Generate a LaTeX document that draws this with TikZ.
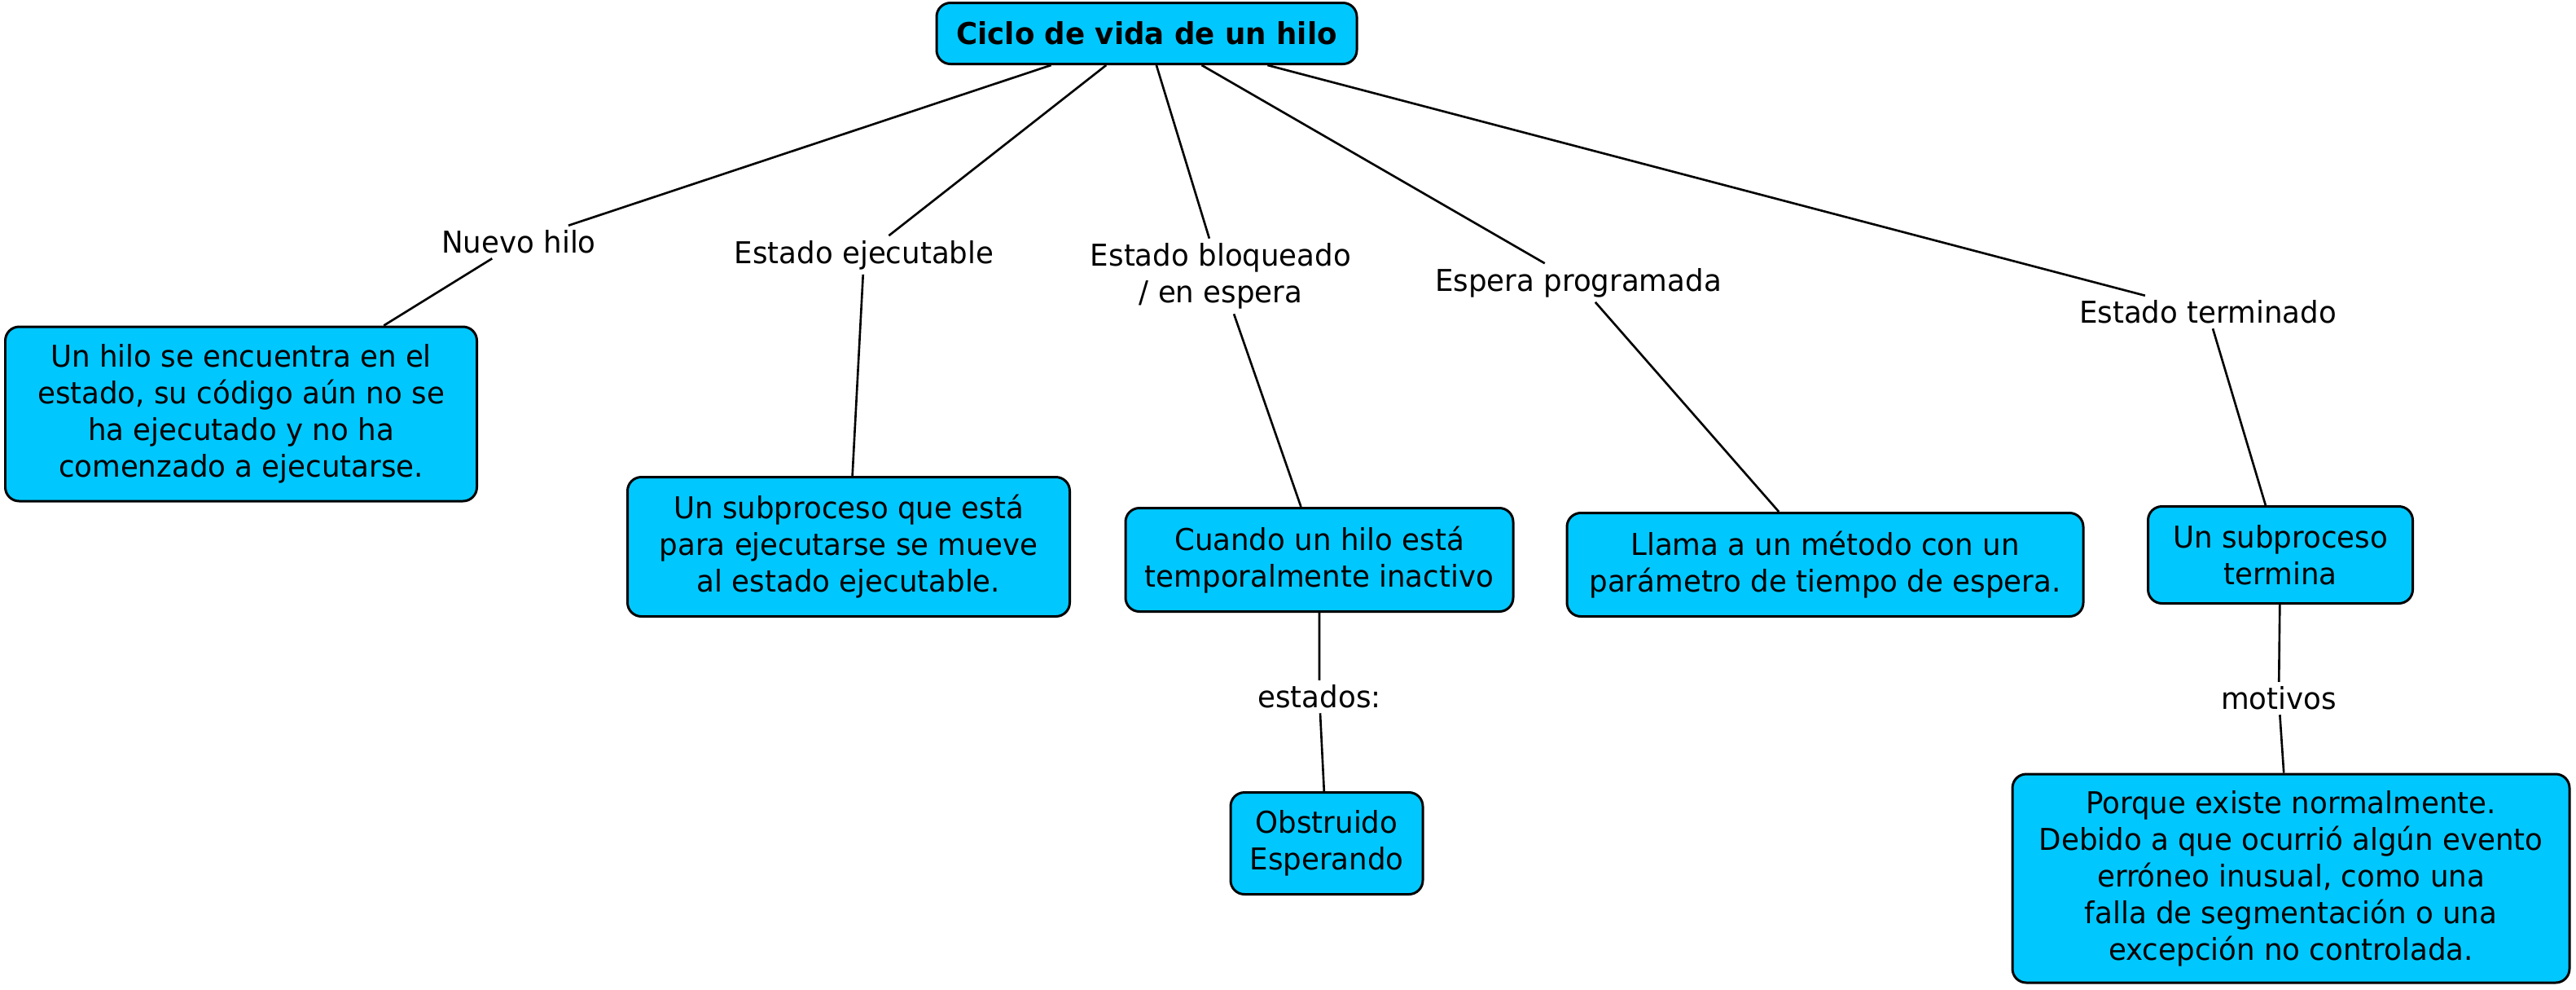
\documentclass[tikz,border=0pt]{standalone}
\usepackage{fontspec}
\setmainfont[FakeStretch=0.965]{DejaVu Sans}
\usepackage{tikz}
\usetikzlibrary{positioning}
\definecolor{hiloCyan}{HTML}{00C8FF}

\begin{document}
\begin{tikzpicture}[font=\fontsize{10.5}{12.8}\selectfont,
  concept/.style={draw,rounded corners=1.7mm,line width=0.85pt,fill=hiloCyan,
    align=center,inner sep=2pt},
  linkword/.style={align=center,inner sep=1.5pt},
  link/.style={line width=0.75pt}]
\useasboundingbox (0,0) rectangle (31.63,-12.14);
% root
\node[concept,minimum width=5.16cm,minimum height=0.75cm,font=\fontsize{10.5}{12.8}\selectfont\bfseries]
  (ciclo) at (14.08,-0.41) {Ciclo de vida de un hilo};
% linking words
\node[linkword] (nuevo) at (6.37,-2.97) {Nuevo hilo};
\node[linkword] (ejec) at (10.61,-3.13) {Estado ejecutable};
\node[linkword] (bloq) at (14.99,-3.39) {Estado bloqueado\\ / en espera};
\node[linkword] (progr) at (19.38,-3.47) {Espera programada};
\node[linkword] (term) at (27.11,-3.83) {Estado terminado};
\node[linkword] (estados) at (16.20,-8.55) {estados:};
\node[linkword] (motivos) at (27.98,-8.57) {motivos};
% concepts
\node[concept,minimum width=5.79cm,minimum height=2.14cm] (cNuevo) at (2.96,-5.08)
  {Un hilo se encuentra en el\\estado, su código aún no se\\ha ejecutado y no ha\\comenzado a ejecutarse.};
\node[concept,minimum width=5.43cm,minimum height=1.71cm] (cEjec) at (10.42,-6.71)
  {Un subproceso que está\\para ejecutarse se mueve\\al estado ejecutable.};
\node[concept,minimum width=4.76cm,minimum height=1.27cm] (cBloq) at (16.20,-6.87)
  {Cuando un hilo está\\temporalmente inactivo};
\node[concept,minimum width=6.34cm,minimum height=1.27cm] (cProgr) at (22.41,-6.93)
  {Llama a un método con un\\parámetro de tiempo de espera.};
\node[concept,minimum width=3.25cm,minimum height=1.19cm] (cTerm) at (28.00,-6.81)
  {Un subproceso\\termina};
\node[concept,minimum width=2.36cm,minimum height=1.25cm] (cEstados) at (16.29,-10.35)
  {Obstruido\\Esperando};
\node[concept,minimum width=6.84cm,minimum height=2.56cm] (cMotivos) at (28.13,-10.78)
  {Porque existe normalmente.\\Debido a que ocurrió algún evento\\erróneo inusual, como una\\falla de segmentación o una\\excepción no controlada.};
% connectors
\draw[link] (ciclo) -- (nuevo) -- (cNuevo);
\draw[link] (ciclo) -- (ejec) -- (cEjec);
\draw[link] (ciclo) -- (bloq) -- (cBloq);
\draw[link] (ciclo) -- (progr) -- (cProgr);
\draw[link] (ciclo) -- (term) -- (cTerm);
\draw[link] (cBloq) -- (estados) -- (cEstados);
\draw[link] (cTerm) -- (motivos) -- (cMotivos);
\end{tikzpicture}
\end{document}
